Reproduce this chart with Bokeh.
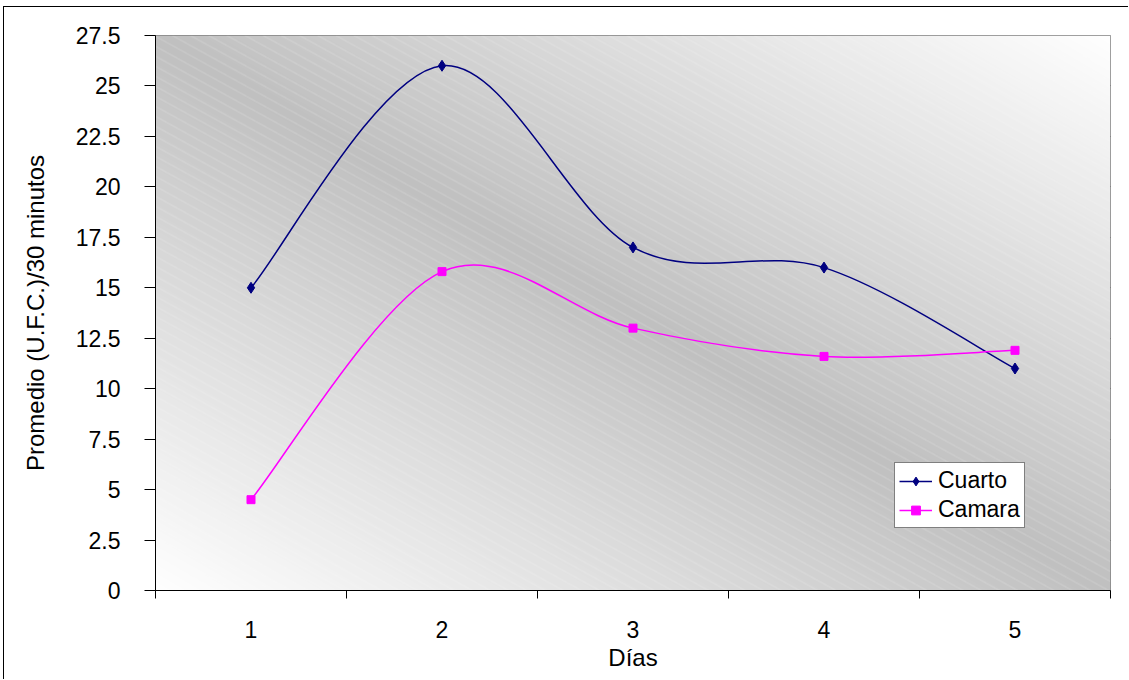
import numpy as np
from bokeh.plotting import figure
from bokeh.models import (Range1d, FixedTicker, Legend, LegendItem, ColumnDataSource)
from bokeh.embed import file_html
from bokeh.resources import INLINE

# ---------------- data ----------------
dias = [1, 2, 3, 4, 5]
x_labels = ["1", "2", "3", "4", "5"]
cuarto = [15.0, 26.0, 17.0, 16.0, 11.0]
camara = [4.5, 15.8, 13.0, 11.6, 11.9]
y_ticks = [0, 2.5, 5, 7.5, 10, 12.5, 15, 17.5, 20, 22.5, 25, 27.5]
y_labels = ["0", "2.5", "5", "7.5", "10", "12.5", "15", "17.5", "20", "22.5", "25", "27.5"]
series_names = ["Cuarto", "Camara"]

FONT = "Liberation Sans"
X0, X1 = dias[0] - 0.5, dias[-1] + 0.5
Y0, Y1 = y_ticks[0], y_ticks[-1]

W, H = 1125, 673
BL, BR, BT, BB = 151, 19, 28, 90

p = figure(width=W, height=H, output_backend="svg", toolbar_location=None,
           x_range=Range1d(X0, X1), y_range=Range1d(Y0, Y1),
           min_border_left=BL, min_border_right=BR, min_border_top=BT, min_border_bottom=BB,
           background_fill_color="white", border_fill_color="white",
           outline_line_color="#808080", outline_line_width=1)
p.styles = {"border-top": "1px solid black", "border-left": "1px solid black",
            "margin-left": "3px", "margin-top": "6px"}

# ---------------- background gradient + faint hatch (plot area styling) ----------------
nx, ny = W - BL - BR, H - BT - BB
fx = np.linspace(0, 1, nx)[None, :]
fy = np.linspace(0, 1, ny)[:, None]
d = 1 - np.abs(fx + fy - 1)
g = 255.0 - (255 - 192) * d
ii = np.arange(nx)[None, :]
jj = (ny - 1 - np.arange(ny))[:, None]          # screen row (top = 0)
phase = np.mod(jj - 0.55 * ii, 10.0)
stripe = np.clip(1.0 - np.abs(phase - 0.5) / 0.9, 0, 1) * 0.28
g = g + (255.0 - g) * stripe
g = g.astype(np.uint8)
img = np.empty((ny, nx), dtype=np.uint32)
view = img.view(dtype=np.uint8).reshape((ny, nx, 4))
view[..., 0] = g
view[..., 1] = g
view[..., 2] = g
view[..., 3] = 255
p.image_rgba(image=[img], x=X0, y=Y0, dw=X1 - X0, dh=Y1 - Y0)

# ---------------- smoothed (Excel-like) curves ----------------
def bezier_source(xs, ys):
    n = len(xs)
    px = [xs[0]] + list(xs) + [xs[-1]]
    py = [ys[0]] + list(ys) + [ys[-1]]
    data = dict(x0=[], y0=[], x1=[], y1=[], cx0=[], cy0=[], cx1=[], cy1=[])
    for i in range(n - 1):
        a = i + 1
        data["x0"].append(px[a]); data["y0"].append(py[a])
        data["x1"].append(px[a + 1]); data["y1"].append(py[a + 1])
        data["cx0"].append(px[a] + (px[a + 1] - px[a - 1]) / 6)
        data["cy0"].append(py[a] + (py[a + 1] - py[a - 1]) / 6)
        data["cx1"].append(px[a + 1] - (px[a + 2] - px[a]) / 6)
        data["cy1"].append(py[a + 1] - (py[a + 2] - py[a]) / 6)
    return ColumnDataSource(data)

items = []
for name, vals, color, marker, size in [
        (series_names[0], cuarto, "#000080", "diamond", 11),
        (series_names[1], camara, "#FF00FF", "square", 8)]:
    br = p.bezier(x0="x0", y0="y0", x1="x1", y1="y1", cx0="cx0", cy0="cy0", cx1="cx1", cy1="cy1",
                  source=bezier_source(dias, vals), line_color=color, line_width=1.5)
    sr = p.scatter(dias, vals, marker=marker, size=size, fill_color=color, line_color=color)
    items.append(LegendItem(label=name, renderers=[br, sr]))

# ---------------- axes ----------------
p.xgrid.visible = False
p.ygrid.ticker = FixedTicker(ticks=y_ticks)
p.ygrid.grid_line_color = "black"
p.ygrid.grid_line_width = 1

p.yaxis.ticker = FixedTicker(ticks=y_ticks)
p.yaxis.major_label_overrides = {t: l for t, l in zip(y_ticks, y_labels)}
p.yaxis.minor_tick_line_color = None
p.yaxis.major_tick_in = 0
p.yaxis.major_tick_out = 11
p.yaxis.major_label_standoff = 24
p.yaxis.axis_label = "Promedio (U.F.C.)/30 minutos"
p.yaxis.axis_label_standoff = 24

bounds = [X0 + i for i in range(len(dias) + 1)]
p.xaxis.ticker = FixedTicker(ticks=dias, minor_ticks=bounds)
p.xaxis.major_label_overrides = {t: l for t, l in zip(dias, x_labels)}
p.xaxis.major_tick_in = 0
p.xaxis.major_tick_out = 0
p.xaxis.minor_tick_in = 0
p.xaxis.minor_tick_out = 8
p.xaxis.minor_tick_line_color = "black"
p.xaxis.major_label_standoff = 22
p.xaxis.axis_label = "Días"
p.xaxis.axis_label_standoff = 3

for ax in (p.xaxis, p.yaxis):
    ax.axis_line_color = "black"
    ax.major_tick_line_color = "black"
    ax.major_label_text_font = FONT
    ax.major_label_text_font_size = "23px"
    ax.major_label_text_color = "black"
    ax.axis_label_text_font = FONT
    ax.axis_label_text_font_size = "24px"
    ax.axis_label_text_font_style = "normal"
    ax.axis_label_text_color = "black"

legend = Legend(items=items, location=(739, 62), orientation="vertical",
                label_text_font=FONT, label_text_font_size="23px", label_text_color="black",
                glyph_width=33, glyph_height=22, label_height=22, label_standoff=6,
                padding=4, spacing=2, margin=0,
                border_line_color="black", border_line_width=1,
                background_fill_color="white", background_fill_alpha=1)
p.add_layout(legend, "center")

open("out.html", "w").write(file_html(p, INLINE))
